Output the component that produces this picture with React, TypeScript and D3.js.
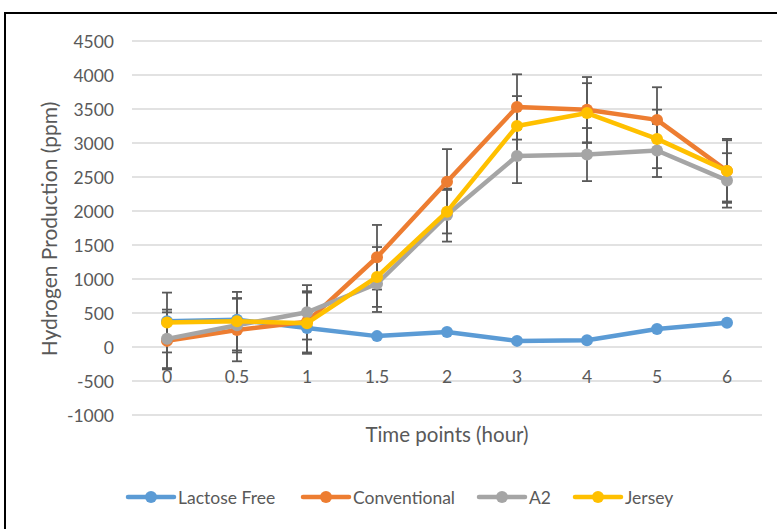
import React from "react";
import * as d3 from "d3";

const categories = ["0", "0.5", "1", "1.5", "2", "3", "4", "5", "6"];
const seriesNames = ["Lactose Free", "Conventional", "A2", "Jersey"];
const lactoseFree = [380, 400, 280, 160, 220, 90, 100, 265, 355];
const conventional = [90, 250, 370, 1320, 2430, 3530, 3490, 3340, 2590];
const a2 = [120, 320, 510, 930, 1940, 2810, 2830, 2890, 2450];
const jersey = [360, 380, 350, 1030, 1990, 3250, 3440, 3060, 2590];
const lactoseFreeErr: number[] = [];
const conventionalErr = [420, 460, 450, 475, 480, 480, 480, 480, 470];
const a2Err = [430, 400, 400, 415, 390, 400, 390, 390, 400];
const jerseyErr = [440, 430, 450, 440, 320, 440, 440, 430, 450];
const yTicks = [-1000, -500, 0, 500, 1000, 1500, 2000, 2500, 3000, 3500, 4000, 4500];
const colors = ["#5B9BD5", "#ED7D31", "#A5A5A5", "#FFC000"];

const W = 777;
const H = 529;
const FONT = "Lato, 'Open Sans', sans-serif";
const TXT = "#595959";

export default function App() {
  const x = d3.scaleBand<string>().domain(categories).range([132, 762]).padding(0);
  const y = d3.scaleLinear().domain([-1000, 4500]).range([415, 41]);
  const cx = (c: string) => (x(c) as number) + x.bandwidth() / 2;

  const data = [lactoseFree, conventional, a2, jersey];
  const errs = [lactoseFreeErr, conventionalErr, a2Err, jerseyErr];

  const line = d3
    .line<number>()
    .x((_, i) => cx(categories[i]))
    .y((v) => y(v));

  const legendX = [128, 303, 479, 575];

  return (
    <svg
      width={W}
      height={H}
      style={{ position: "absolute", left: 0, top: 0, background: "#fff" }}
      fontFamily={FONT}
    >
      <rect x={0} y={0} width={W} height={H} fill="#fff" />
      <rect x={5} y={13} width={W + 10} height={H + 10} fill="none" stroke="#000" strokeWidth={2} />
      {yTicks.map((t) => (
        <g key={t}>
          <line x1={132} x2={762} y1={y(t)} y2={y(t)} stroke="#D9D9D9" strokeWidth={1.3} />
          <text x={114} y={y(t)} textAnchor="end" dominantBaseline="central" fontSize={17.5} fill={TXT}>
            {t}
          </text>
        </g>
      ))}
      {categories.map((c) => (
        <text key={c} x={cx(c)} y={376} textAnchor="middle" dominantBaseline="central" fontSize={17.5} fill={TXT}>
          {c}
        </text>
      ))}
      <text x={447} y={434} textAnchor="middle" dominantBaseline="central" fontSize={20.5} fill={TXT}>
        Time points (hour)
      </text>
      <text
        transform={`translate(48,229) rotate(-90)`}
        textAnchor="middle"
        dominantBaseline="central"
        fontSize={21}
        fill={TXT}
      >
        Hydrogen Production (ppm)
      </text>
      {data.map((vals, si) =>
        (errs[si] || []).map((e, i) => {
          const px = cx(categories[i]);
          const hi = y(vals[i] + e);
          const lo = y(vals[i] - e);
          return (
            <g key={`e${si}-${i}`} stroke="#595959" strokeWidth={1.8}>
              <line x1={px} x2={px} y1={hi} y2={lo} />
              <line x1={px - 5} x2={px + 5} y1={hi} y2={hi} />
              <line x1={px - 5} x2={px + 5} y1={lo} y2={lo} />
            </g>
          );
        })
      )}
      {data.map((vals, si) => (
        <g key={`s${si}`}>
          <path d={line(vals) || ""} fill="none" stroke={colors[si]} strokeWidth={4.5} strokeLinejoin="round" />
          {vals.map((v, i) => (
            <circle key={i} cx={cx(categories[i])} cy={y(v)} r={6} fill={colors[si]} />
          ))}
        </g>
      ))}
      {seriesNames.map((n, i) => (
        <g key={n}>
          <line
            x1={legendX[i]}
            x2={legendX[i] + 46}
            y1={497}
            y2={497}
            stroke={colors[i]}
            strokeWidth={4.5}
            strokeLinecap="round"
          />
          <circle cx={legendX[i] + 23} cy={497} r={6} fill={colors[i]} />
          <text x={legendX[i] + 50} y={497} dominantBaseline="central" fontSize={17.5} fill={TXT}>
            {n}
          </text>
        </g>
      ))}
    </svg>
  );
}
